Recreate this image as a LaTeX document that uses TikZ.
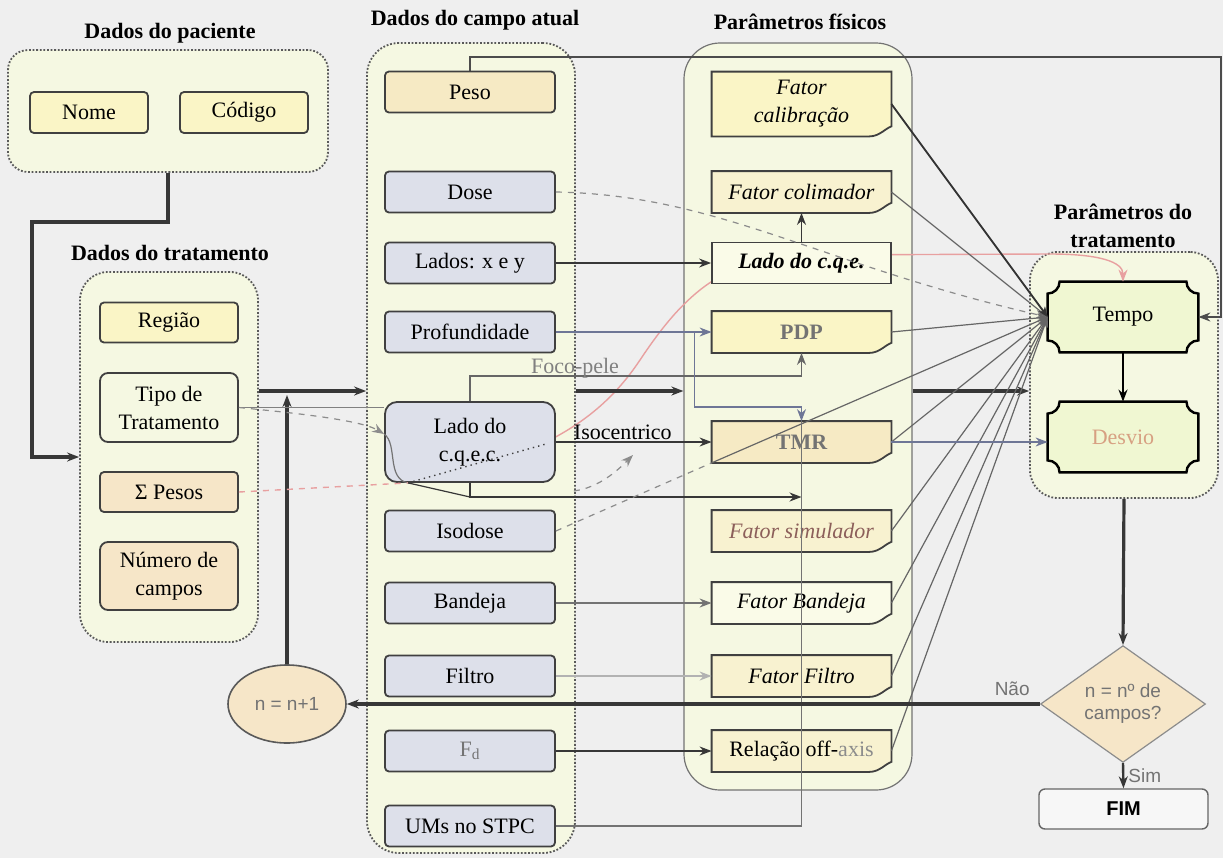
\documentclass[tikz,border=0pt]{standalone}
\usepackage{fontspec}
\setmainfont{Liberation Serif}
\setsansfont{Liberation Sans}
\usetikzlibrary{arrows.meta,shapes.geometric,positioning}

\definecolor{cfundo}{RGB}{239,239,239}
\definecolor{cgrupo}{RGB}{245,248,226}
\definecolor{camarelo}{RGB}{250,245,198}
\definecolor{cpessego}{RGB}{246,230,200}
\definecolor{cpeso}{RGB}{246,234,196}
\definecolor{cazul}{RGB}{221,224,234}
\definecolor{ccreme}{RGB}{248,242,208}
\definecolor{cpalido}{RGB}{250,251,232}
\definecolor{cverde}{RGB}{240,247,210}
\definecolor{clinha}{RGB}{55,55,55}
\definecolor{cazullinha}{RGB}{110,118,150}
\definecolor{cvermelho}{RGB}{232,160,160}
\definecolor{cdesvio}{RGB}{215,160,130}
\definecolor{cmarrom}{RGB}{140,95,90}

\pgfdeclarelayer{grupos}
\pgfdeclarelayer{fios}
\pgfsetlayers{grupos,fios,main}

\newcommand{\fonte}{\fontsize{11}{14}\selectfont}
\newcommand{\documento}[2]{\draw[bordadoc,fill=#2] (#1.north west) -- (#1.north east) -- ([yshift=5pt]#1.south east) .. controls ([xshift=-3pt,yshift=4pt]#1.south east) and ([xshift=-6pt]#1.south east) .. ([xshift=-11pt]#1.south east) -- (#1.south west) -- cycle;}
\newcommand{\placa}[1]{\draw[line width=1.2pt,fill=cverde] ([xshift=6pt]#1.north west) -- ([xshift=-6pt]#1.north east) arc[start angle=180,end angle=270,radius=6pt] -- ([yshift=6pt]#1.south east) arc[start angle=90,end angle=180,radius=6pt] -- ([xshift=6pt]#1.south west) arc[start angle=0,end angle=90,radius=6pt] -- ([yshift=-6pt]#1.north west) arc[start angle=270,end angle=360,radius=6pt] -- cycle;}

\begin{document}
\begin{tikzpicture}[x=0.5pt,y=-0.5pt,font=\fonte,
  >={Stealth[length=6pt,width=4.5pt]},
  titulo/.style={font=\fonte\bfseries,align=center},
  grupo/.style={draw=black!65,line width=0.9pt,dash pattern=on 0.9pt off 0.9pt,rounded corners=10pt,fill=cgrupo,inner sep=0pt},
  caixa/.style={draw=black!75,line width=0.9pt,rounded corners=2pt,align=center,inner sep=1pt},
  campo/.style={caixa,fill=cazul,minimum width=85pt,minimum height=20.5pt},
  trat/.style={caixa,minimum width=69pt,minimum height=20pt},
  doc/.style={align=center,inner sep=1pt,minimum width=89.5pt,minimum height=20.5pt,font=\fonte\itshape},
  bordadoc/.style={draw=black!75,line width=0.9pt},
  placa/.style={align=center,minimum width=75pt,minimum height=35pt},
  grosso/.style={->,line width=1.6pt,draw=clinha},
  fino/.style={->,line width=0.7pt,draw=clinha},
  conv/.style={-{Stealth[length=5pt,width=4pt]},line width=0.6pt,draw=black!60},
  azulfino/.style={->,line width=0.6pt,draw=cazullinha},
  tracejado/.style={->,line width=0.6pt,draw=black!45,dashed},
  rotulo/.style={font=\sffamily\fontsize{9.5}{11}\selectfont,text=black!55}]
\useasboundingbox (0,0) rectangle (1223,858);

\begin{pgfonlayer}{grupos}
\fill[cfundo] (0,0) rectangle (1223,858);
\node[grupo,minimum width=160pt,minimum height=61pt] (gpac) at (168,111) {};
\node[grupo,minimum width=89pt,minimum height=185pt,rounded corners=14pt] (gtrat) at (169,457) {};
\node[grupo,minimum width=104pt,minimum height=405pt,rounded corners=16pt] (gcampo) at (471,448) {};
\node[grupo,solid,draw=black!55,line width=0.6pt,minimum width=114pt,minimum height=373.5pt,rounded corners=18pt] (gfis) at (798,416.5) {};
\node[grupo,minimum width=94pt,minimum height=123pt,rounded corners=14pt] (gptrat) at (1124,375) {};
\end{pgfonlayer}

\node[titulo] (tpac) at (170,33) {Dados do paciente};
\node[titulo] (ttrat) at (170,253) {Dados do tratamento};
\node[titulo] (tcampo) at (475,20) {Dados do campo atual};
\node[titulo] (tfis) at (800,22) {Parâmetros físicos};
\node[titulo] (tptrat) at (1123,226) {Parâmetros do\\tratamento};

\node[caixa,fill=camarelo,minimum width=59pt,minimum height=20.5pt] (nome) at (89,112.5) {Nome};
\node[caixa,fill=camarelo,minimum width=64pt,minimum height=20.5pt] (codigo) at (244,112.5) {Código};

\node[trat,fill=camarelo] (regiao) at (169,322.5) {Região};
\node[trat,fill=cgrupo,minimum height=34.5pt,rounded corners=4pt] (tipo) at (169,407.5) {Tipo de\\Tratamento};
\node[trat,fill=cpessego] (spesos) at (169,492) {Σ Pesos};
\node[trat,fill=cpessego,minimum height=34pt,rounded corners=4pt] (ncampos) at (169,576) {Número de\\campos};

\node[campo,fill=cpeso] (peso) at (470,92) {Peso};
\node[campo] (dose) at (470,192) {Dose};
\node[campo] (lados) at (470,263) {Lados: x e y};
\node[campo] (prof) at (470,332) {Profundidade};
\node[campo,minimum height=40pt,rounded corners=6pt] (lcqec) at (470,442) {Lado do\\c.q.e.c.};
\node[campo] (isodose) at (470,531) {Isodose};
\node[campo] (bandeja) at (470,603) {Bandeja};
\node[campo] (filtro) at (470,676) {Filtro};
\node[campo,text=black!55] (fd) at (470,751) {F\textsubscript{d}};
\node[campo] (ums) at (470,826) {UMs no STPC};

\node[doc,minimum height=32pt] (fcal) at (801.5,104) {Fator\\calibração};
\node[doc] (fcol) at (801.5,192) {Fator colimador};
\node[caixa,fill=cpalido,rounded corners=0pt,minimum width=89.5pt,minimum height=20.5pt,font=\fonte\bfseries\itshape] (lcqe) at (801.5,263) {Lado do c.q.e.};
\node[doc,font=\fonte\bfseries,text=black!55] (pdp) at (801.5,332) {PDP};
\node[doc,font=\fonte\bfseries,text=black!55] (tmr) at (801.5,442) {TMR};
\node[doc,text=cmarrom] (fsim) at (801.5,531) {Fator simulador};
\node[doc] (fband) at (801.5,603) {Fator Bandeja};
\node[doc] (ffil) at (801.5,676) {Fator Filtro};
\node[doc,font=\fonte] (rel) at (801.5,751) {Relação off-\textcolor{black!45}{axis}};

\node[placa] (tempo) at (1123,317) {Tempo};
\node[placa,text=cdesvio] (desvio) at (1123,437) {Desvio};

\node[ellipse,draw=black!65,line width=0.8pt,fill=cpessego,minimum width=59pt,minimum height=39pt,font=\sffamily\fontsize{9.5}{11}\selectfont,text=black!55] (incr) at (287,704) {n = n+1};
\node[diamond,draw=black!45,line width=0.6pt,fill=cpessego,minimum width=82.5pt,minimum height=57pt,inner sep=0pt,align=center,font=\sffamily\fontsize{9.5}{11}\selectfont,text=black!55] (decisao) at (1123,704) {n = nº de\\campos?};
\node[draw=black!60,line width=0.7pt,rounded corners=3pt,fill=white!97!black,minimum width=84.5pt,minimum height=20pt,font=\sffamily\bfseries\fontsize{10}{12}\selectfont] (fim) at (1123.5,809) {FIM};

\begin{pgfonlayer}{fios}
\foreach \n/\c in {fcal/camarelo,fcol/ccreme,pdp/camarelo,tmr/cpeso,fsim/ccreme,fband/cpalido,ffil/ccreme,rel/ccreme}
  \documento{\n}{\c};
\placa{tempo}
\placa{desvio}
\draw[->,cvermelho,line width=0.7pt] ([xshift=12pt]lcqec.south west) .. controls (540,460) and (600,420) .. (640,360) .. controls (680,300) and (720,258) .. (800,255) -- (1050,254) .. controls (1100,254) and (1123,262) .. (tempo.north);
\end{pgfonlayer}

\coordinate (pdobra) at (32,222);
\coordinate (fluxo) at (0,391);
\coordinate (yp) at (0,407);
\coordinate (yb) at (0,497);
\coordinate (topo) at (1221,57);
\coordinate (setaiso) at (633,455);

\draw[grosso,line width=2pt] (gpac.south) |- (pdobra) |- (gtrat.west);
\draw[grosso] (gtrat.east |- fluxo) -- (gcampo.west |- fluxo);
\draw[grosso] (gcampo.east |- fluxo) -- (gfis.west |- fluxo);
\draw[grosso] (gfis.east |- fluxo) -- (gptrat.west |- fluxo);
\draw[grosso,shorten >=2pt] (incr.north) -- (incr.north |- fluxo);

\draw[line width=0.6pt,draw=black!50] (tipo.east) -- (tipo.east -| lcqec.west);
\draw[tracejado] (tipo.east) .. controls +(40,4) and +(-25,-15) .. ([yshift=4pt]lcqec.west);
\draw[line width=0.6pt,draw=black!55] ([yshift=4pt]lcqec.west) .. controls +(14,10) and +(-22,-4) .. ([xshift=12pt]lcqec.south west);
\draw[cvermelho,dashed,line width=0.7pt] (spesos.east) -- ([xshift=12pt]lcqec.south west);
\draw[dotted,black!75,line width=0.7pt] ([xshift=12pt]lcqec.south west) -- ([xshift=-5pt,yshift=-1pt]lcqec.east);
\draw[line width=0.6pt,draw=clinha] ([xshift=12pt]lcqec.south west) -- (lcqec.south |- yb);
\draw[fino,line width=1.2pt] (lcqec.south) |- (tmr.south |- yb);
\draw[fino,draw=black!60] (lcqec.north) -- ++(0,-25) -| (pdp.south);
\node[text=black!50] (lfoco) at (575,368) {Foco-pele};
\draw[fino] (lcqec.east) -- node[above,inner sep=1pt,pos=0.43] (liso) {Isocentrico} (tmr.west);
\draw[tracejado] ([xshift=9pt,yshift=-4pt]lcqec.south east) .. controls +(25,-3) and +(-15,15) .. (setaiso);

\draw[tracejado] (dose.east) .. controls (720,195) and (820,265) .. (tempo.west);
\draw[fino] (lados.east) -- (lcqe.west);
\draw[fino] (lcqe.north) -- (fcol.south);
\draw[azulfino] (prof.east) -- (pdp.west);
\draw[azulfino] ([xshift=-8.5pt]pdp.west) |- (tmr.north |- yp) -- (tmr.north);
\draw[line width=0.6pt,draw=black!45,dashed] (isodose.east) -- (tmr.south west);
\draw[conv] (tmr.south west) -- (tempo.west);
\draw[line width=0.6pt,draw=black!55] (ums.east) -| (tmr.north);
\draw[fino,draw=black!55] (bandeja.east) -- (fband.west);
\draw[fino,draw=black!30] (filtro.east) -- (ffil.west);
\draw[fino] (fd.east) -- (rel.west);

\foreach \n in {fcal,fcol,pdp,tmr,fsim,fband,ffil,rel}
  \draw[conv] (\n.east) -- (tempo.west);
\draw[conv,line width=0.9pt,draw=black!80] (fcal.east) -- (tempo.west);

\draw[grosso,line width=1.2pt,draw=black] (tempo.south) -- (desvio.north);
\draw[azulfino] (tmr.east) -- (tmr.east -| desvio.west);
\draw[fino,draw=black!70] (peso.north) |- (topo) |- (tempo.east);
\draw[grosso] (gptrat.south) -- (decisao.north);
\draw[grosso] (decisao.west) -- node[above,rotulo,pos=0.04] {Não} (incr.east);
\draw[grosso,line width=1.2pt] (decisao.south) -- node[right,rotulo,inner sep=2pt] {Sim} (fim.north);
\end{tikzpicture}
\end{document}
